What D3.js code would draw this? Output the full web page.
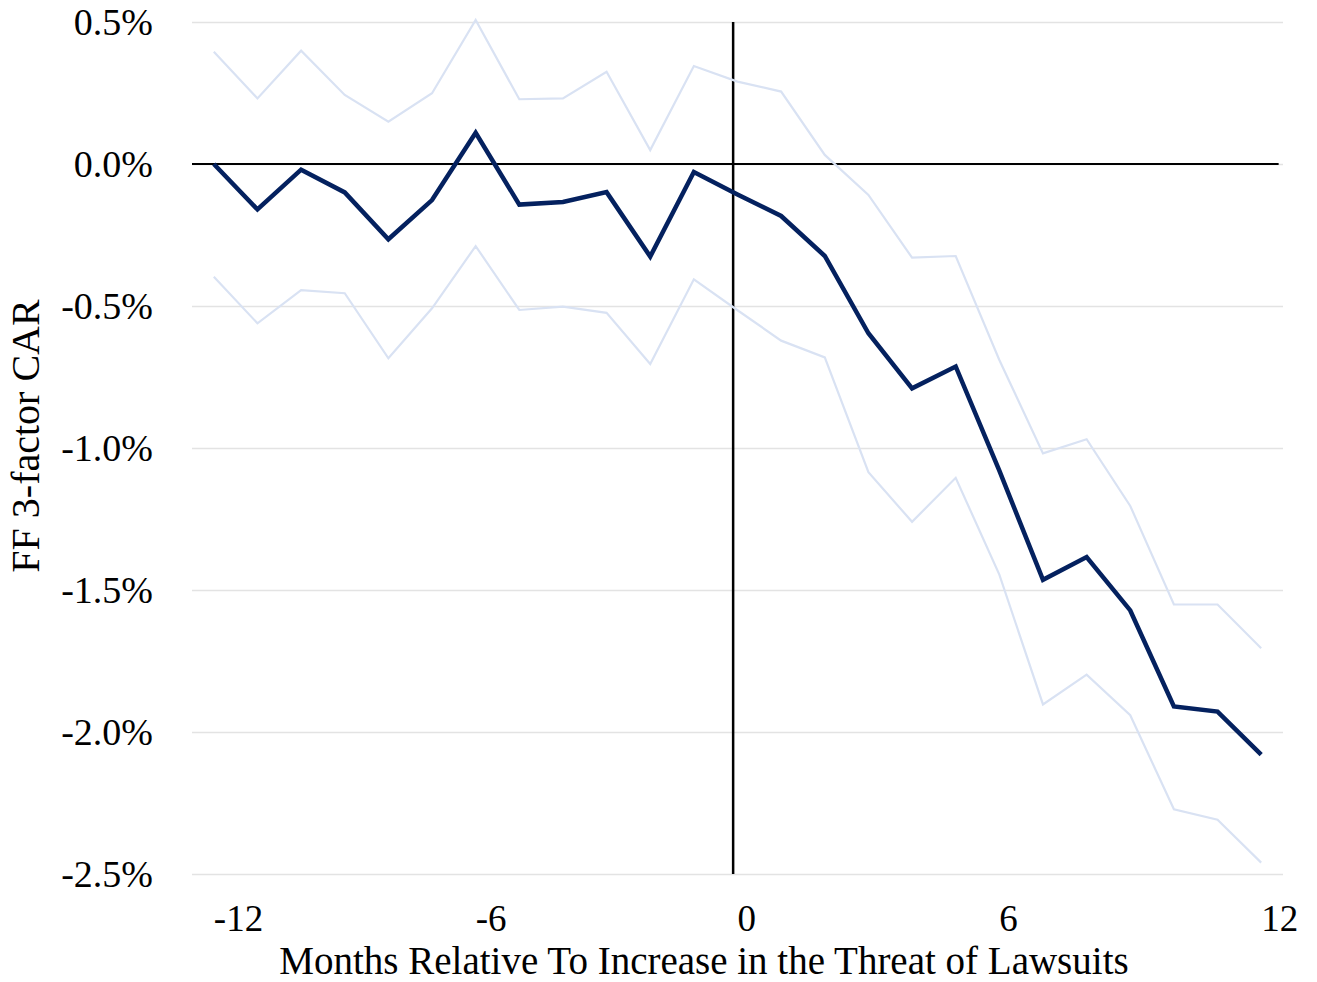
<!DOCTYPE html>
<html>
<head>
<meta charset="utf-8">
<script src="https://cdn.jsdelivr.net/npm/d3@7"></script>
<style>
  html, body { margin: 0; padding: 0; background: #ffffff; }
  svg { display: block; }
  text { font-family: "Liberation Serif", "Times New Roman", serif; fill: #000; }
</style>
</head>
<body>
<svg id="chart" width="1317" height="982"></svg>
<script>
// ---- Data (percent) ----
const months = [-12,-11,-10,-9,-8,-7,-6,-5,-4,-3,-2,-1,0,1,2,3,4,5,6,7,8,9,10,11,12];
const car = [0.00,-0.16,-0.02,-0.10,-0.265,-0.127,0.11,-0.143,-0.134,-0.099,-0.326,-0.028,
             -0.107,-0.183,-0.324,-0.596,-0.79,-0.713,-1.08,-1.464,-1.384,-1.572,-1.91,-1.928,-2.08];
const upper = [0.395,0.231,0.399,0.243,0.149,0.249,0.507,0.228,0.231,0.325,0.049,0.345,
               0.29,0.255,0.032,-0.109,-0.33,-0.324,-0.69,-1.019,-0.969,-1.204,-1.551,-1.551,-1.705];
const lower = [-0.397,-0.561,-0.444,-0.455,-0.684,-0.508,-0.289,-0.514,-0.502,-0.524,-0.704,-0.406,
               -0.515,-0.622,-0.681,-1.085,-1.26,-1.105,-1.446,-1.903,-1.798,-1.941,-2.272,-2.309,-2.46];
const xTicks = [-12,-6,0,6,12];
const yTicks = [0.5,0.0,-0.5,-1.0,-1.5,-2.0,-2.5];
const eventMonth = -0.1;
const xTitle = "Months Relative To Increase in the Threat of Lawsuits";
const yTitle = "FF 3-factor CAR";

// ---- Layout ----
const svg = d3.select("#chart");
const plot = { left: 192, right: 1283, top: 22, bottom: 874 };

const x = d3.scaleLinear().domain([-12.5, 12.5]).range([plot.left, plot.right]);
const y = d3.scaleLinear().domain([-2.5, 0.5]).range([plot.bottom, plot.top]);

// gridlines + y tick labels
const yAxis = d3.axisLeft(y).tickValues(yTicks).tickSize(-(plot.right - plot.left))
  .tickFormat(d => d3.format(".1f")(d).replace("−", "-") + "%").tickPadding(39);
const gy = svg.append("g").attr("transform", `translate(${plot.left},0)`).call(yAxis);
gy.attr("font-family", null).attr("font-size", null);
gy.select(".domain").remove();
gy.selectAll(".tick line").attr("stroke", "#e3e3e3").attr("stroke-width", 1.3);
gy.selectAll(".tick text").attr("font-size", 38).attr("fill", "#000");

// zero line
svg.append("line")
  .attr("x1", plot.left).attr("x2", x(12.4))
  .attr("y1", y(0)).attr("y2", y(0))
  .attr("stroke", "#000").attr("stroke-width", 2);

// event line
svg.append("line")
  .attr("x1", x(eventMonth)).attr("x2", x(eventMonth))
  .attr("y1", y(0.5)).attr("y2", y(-2.5))
  .attr("stroke", "#000").attr("stroke-width", 2.5);

const line = d3.line().x((d, i) => x(months[i])).y(d => y(d));

svg.append("path").datum(upper).attr("d", line)
  .attr("fill", "none").attr("stroke", "#d9e2f3").attr("stroke-width", 2.2);
svg.append("path").datum(lower).attr("d", line)
  .attr("fill", "none").attr("stroke", "#d9e2f3").attr("stroke-width", 2.2);
svg.append("path").datum(car).attr("d", line)
  .attr("fill", "none").attr("stroke", "#04215f").attr("stroke-width", 4.5)
  .attr("stroke-linejoin", "miter");

// x tick labels
svg.append("g").selectAll("text").data(xTicks).join("text")
  .attr("x", d => x(d))
  .attr("y", 931)
  .attr("text-anchor", "start")
  .attr("font-size", 37)
  .text(d => d3.format("d")(d).replace("−", "-"));

// x title
svg.append("text")
  .attr("x", 704).attr("y", 974)
  .attr("text-anchor", "middle")
  .attr("font-size", 39)
  .text(xTitle);

// y title
svg.append("text")
  .attr("transform", `translate(39,436) rotate(-90)`)
  .attr("text-anchor", "middle")
  .attr("font-size", 40)
  .text(yTitle);
</script>
</body>
</html>
